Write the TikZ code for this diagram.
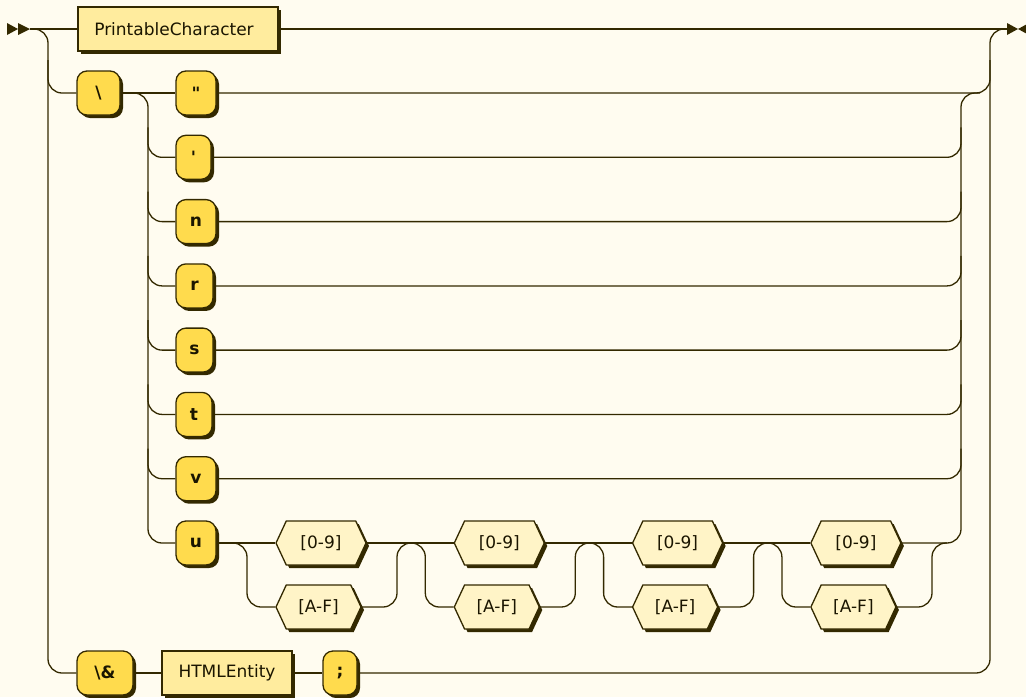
\documentclass[tikz,border=0pt]{standalone}
\usepackage{fontspec}
\setmainfont{DejaVu Sans}
\newfontfamily\qfont{DejaVu Sans}
\usetikzlibrary{shapes.symbols,shadows}
\definecolor{bg}{HTML}{FFFCF0}
\definecolor{ln}{HTML}{332900}
\definecolor{txt}{HTML}{1A1500}
\definecolor{tfill}{HTML}{FFDB4D}
\definecolor{nfill}{HTML}{FFEC9E}
\definecolor{rfill}{HTML}{FFF4C7}
\pgfdeclarelayer{bgfill}
\pgfdeclarelayer{background}
\pgfsetlayers{bgfill,background,main}
\tikzset{
 lbl/.style={font=\fontsize{17}{20}\selectfont, text=txt},
 shd/.style={general shadow={fill=ln, shadow xshift=3pt, shadow yshift=-3pt}},
 nterm/.style={lbl, rectangle, draw=ln, line width=1.3pt, fill=nfill, shd, minimum height=44pt, inner sep=0pt},
 term/.style={lbl, rectangle, draw=ln, line width=1.3pt, fill=tfill, shd, minimum height=44pt, inner sep=0pt, rounded corners=10pt, font=\fontsize{17}{20}\selectfont\bfseries},
 hexa/.style={lbl, signal, signal to=west and east, signal pointer angle=130, draw=ln, line width=1.3pt, fill=rfill, shd, minimum height=44pt, inner sep=0pt},
 rail/.style={draw=ln, line width=1.3pt, rounded corners=14pt},
 marker/.style={fill=ln, draw=none},
}
\begin{document}
\begin{tikzpicture}[x=1pt, y=-1pt]
\useasboundingbox (0,0) rectangle (1026,697);
\begin{pgfonlayer}{bgfill}
\fill[bg] (0,0) rectangle (1026,697);
\end{pgfonlayer}

% nodes
\node[nterm, minimum width=200pt] (pc) at (178,29) {PrintableCharacter\hspace*{8pt}};
\node[term, minimum width=43pt] (bs) at (98.5,93) {\textbackslash};
\node[term, minimum width=40pt] (qq) at (196,93) {\qfont\bfseries "};
\node[term, minimum width=35pt] (q) at (193.5,157.3) {\qfont\bfseries '};
\node[term, minimum width=40pt] (tn) at (196,221.6) {n};
\node[term, minimum width=37pt] (tr) at (194.5,285.9) {r};
\node[term, minimum width=37pt] (ts) at (194.5,350.1) {s};
\node[term, minimum width=36pt] (tt) at (194,414.4) {t};
\node[term, minimum width=40pt] (tv) at (196,478.7) {v};
\node[term, minimum width=40pt] (tu) at (196,543) {u};
\foreach \k in {0,1,2,3} {
  \pgfmathsetmacro\xa{276+178.3*\k}
  \node[hexa, minimum width=90pt] (h09\k) at (\xa+45,543) {[0-9]};
  \node[hexa, minimum width=85pt] (haf\k) at (\xa+42.5,607) {[A-F]};
}
\node[term, minimum width=56pt] (amp) at (105,673) {\textbackslash\&};
\node[nterm, minimum width=130pt] (html) at (227,673) {HTMLEntity};
\node[term, minimum width=34pt] (semi) at (340,673) {;};

% start / end markers
\coordinate (start) at (30,29);
\coordinate (end) at (1007,29);
\fill[marker] (7,23) -- (18,29) -- (7,35) -- cycle;
\fill[marker] (18,23) -- (start) -- (18,35) -- cycle;
\fill[marker] (end) ++(0,-6) -- (1018,29) -- (1007,35) -- cycle;
\fill[marker] (1029,23) -- (1018,29) -- (1029,35) -- cycle;

\begin{pgfonlayer}{background}
% outer choice
\draw[rail] (start) -- (pc.west);
\draw[rail] (pc.east) -- (end);
\draw[rail] (start) -| (48,673) -- (amp.west);
\draw[rail] (48,60) |- (bs.west);
\draw[rail] (bs.east) -- (qq.west);
\draw[rail] (qq.east) -| (990,29) -- (end);
\draw[rail] (amp.east) -- (html.west);
\draw[rail] (html.east) -- (semi.west);
\draw[rail] (semi.east) -| (990,60);
% inner choice
\draw[rail] (bs.east) -| (148,543) -- (tu.west);
\foreach \n/\y in {q/157.3,tn/221.6,tr/285.9,ts/350.1,tt/414.4,tv/478.7} {
  \draw[rail] (148,\y-30) |- (\n.west);
  \draw[rail] (\n.east) -| (961,\y-30);
}
% hex groups
\draw[rail] (tu.east) -- (h090.west);
\draw[rail] (tu.east) -| (247,607) -- (haf0.west);
\foreach \k in {1,2,3} {
  \pgfmathtruncatemacro\p{\k-1}
  \pgfmathsetmacro\L{247+178.3*\k}
  \draw[rail] (h09\p.east) -- (h09\k.west);
  \draw[rail] (h09\p.east) -| (\L,607) -- (haf\k.west);
}
\foreach \k in {0,1,2} {
  \pgfmathsetmacro\R{397+178.3*\k}
  \draw[rail] (haf\k.east) -| (\R,543) -- (\R+14.5,543);
}
\draw[rail] (haf3.east) -| (932,543) -- (947,543);
\draw[rail] (h093.east) -| (961,93) -- (980,93);
\end{pgfonlayer}
\end{tikzpicture}
\end{document}
